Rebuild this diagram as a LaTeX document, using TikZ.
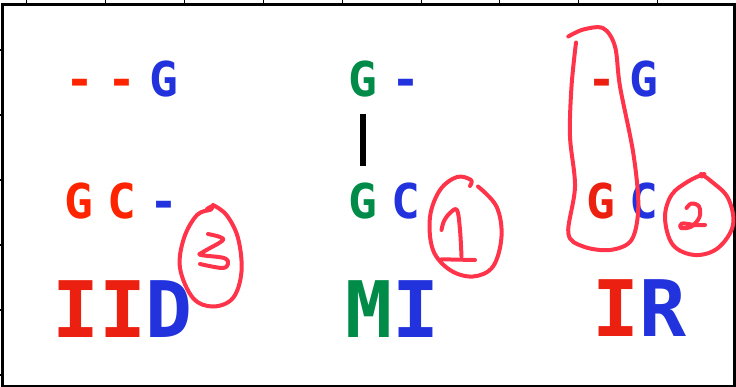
\documentclass[tikz,border=0pt]{standalone}
\usepackage{fontspec}
\setmonofont{DejaVu Sans Mono}
\definecolor{delred}{RGB}{255,36,0}
\definecolor{insred}{RGB}{236,32,16}
\definecolor{matchgreen}{RGB}{0,140,72}
\definecolor{gapblue}{RGB}{34,51,221}
\definecolor{pen}{RGB}{255,52,74}
\begin{document}
\begin{tikzpicture}[x=1pt,y=-1pt,
  glyph/.style={inner sep=0pt, anchor=base, font=\ttfamily\bfseries\fontsize{48}{48}\selectfont},
  label/.style={inner sep=0pt, anchor=base, font=\ttfamily\bfseries\fontsize{78}{78}\selectfont},
  tickmark/.style={line width=1.1pt, black},
  frame/.style={line width=2.6pt, black},
  pairbar/.style={line width=6pt, black, shorten <=17pt, shorten >=16pt},
  ink/.style={line width=4pt, pen, line cap=round, line join=round}]
\useasboundingbox (0,0) rectangle (736,386);
\clip (0,0) rectangle (736,386);

% axes frame and ticks
\draw[frame] (2.5,4.5) rectangle (734.5,386.6);
\foreach \k in {0,...,8}
  \draw[tickmark] ({26.8+78.85*\k},-3) -- ({26.8+78.85*\k},4.5);
\foreach \k in {0,...,5}
  \draw[tickmark] (-3,{50+65*\k}) -- (2.5,{50+65*\k});

% IID column
\node[glyph, text=delred]  (iidA1) at (79.5,96) {-};
\node[glyph, text=delred]  (iidA2) at (122,96) {-};
\node[glyph, text=gapblue] (iidA3) at (164,96) {G};
\node[glyph, text=delred]  (iidB1) at (79.3,218) {G};
\node[glyph, text=delred]  (iidB2) at (121.5,218) {C};
\node[glyph, text=gapblue] (iidB3) at (164,218) {-};
\node[label] (iid) at (122.5,337) {\textcolor{insred}{II}\textcolor{gapblue}{D}};

% MI column
\node[glyph, text=matchgreen] (miA1) at (363,96) {G};
\node[glyph, text=gapblue]    (miA2) at (405.5,96) {-};
\node[glyph, text=matchgreen] (miB1) at (363,218) {G};
\node[glyph, text=gapblue]    (miB2) at (405.5,218) {C};
\draw[pairbar] (miA1.south) -- (miB1.north);
\node[label] (mi) at (392.7,337) {\textcolor{matchgreen}{M}\textcolor{gapblue}{I}};

% IR column
\node[glyph, text=insred]  (irA1) at (601.5,96) {-};
\node[glyph, text=gapblue] (irA2) at (644,96) {G};
\node[glyph, text=insred]  (irB1) at (601,218) {G};
\node[glyph, text=gapblue] (irB2) at (644,218) {C};
\node[label] (ir) at (639,336) {\textcolor{insred}{I}\textcolor{gapblue}{R}};

% hand-written marks
\draw[ink] plot[smooth, tension=0.6] coordinates {(207,209) (211.5,206.5) (211,209.5)
  (197,215) (184,238) (180,268) (193,298) (213,306.5) (233,298) (241.5,271.5) (238,238) (226.5,215) (213,205)};
\draw[ink] plot[smooth, tension=0.6] coordinates {(208,234) (220,237) (222,241) (203,252) (201,255)
  (224,258) (228,264) (222,268) (200,264)};

\draw[ink] plot[smooth, tension=0.6] coordinates {(470,186) (471,180) (457,177) (440,190) (430,217) (433,250)
  (450,270) (473,276.5) (493,266.5) (501.5,236.5) (496.5,206.5) (478,186.5)};
\draw[ink] plot[smooth, tension=0.6] coordinates {(441.5,230) (444,221) (450,213) (457,210) (460,230) (461.5,256.5)};
\draw[ink] (441.5,259.3) -- (475,260);

\draw[ink] plot[smooth, tension=0.6] coordinates {(701.5,176.5) (704,174) (688,181.5) (671.5,195) (665,218)
  (673,245) (695,255) (718,248) (733,225) (728,198) (711.5,181.5) (701,174)};
\draw[ink] plot[smooth, tension=0.6] coordinates {(686.5,208) (691.5,203.5) (699,206.5) (699.5,217)
  (691.5,226.5) (681,228) (682,223.5) (695,225) (705,225)};

\draw[ink] plot[smooth, tension=0.55] coordinates {(576,42.5) (571.5,86.5) (570,136.5) (575,186.5)
  (568.3,233.3) (583.3,246.5) (610,250) (631.5,240) (638.3,206.5) (633.3,153.3) (620,86.5)
  (615,46.5) (603.3,28.3) (583.3,29.5) (568.3,36.5)};
\end{tikzpicture}
\end{document}
